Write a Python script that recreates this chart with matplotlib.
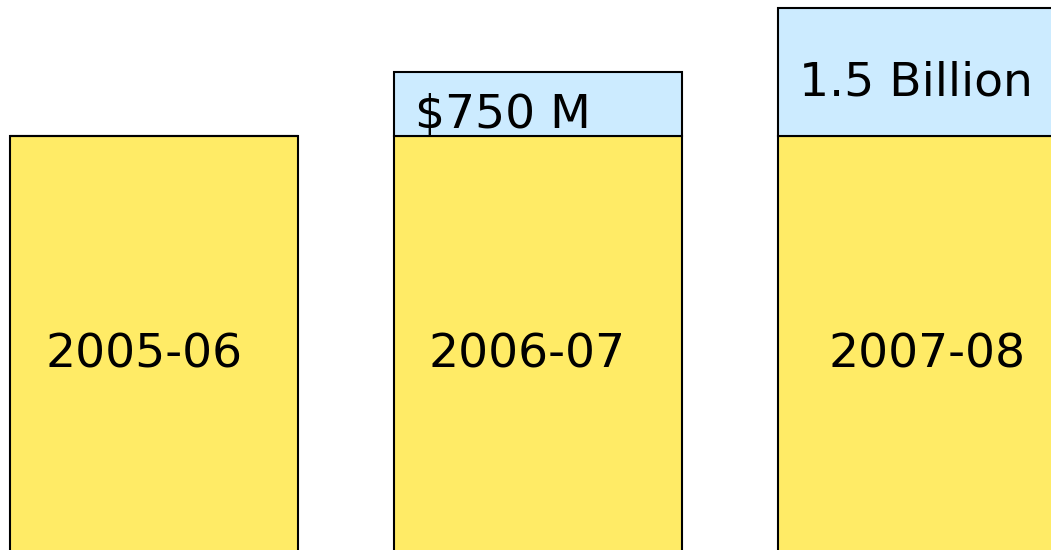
import matplotlib
matplotlib.use("Agg")
import matplotlib.pyplot as plt

# budget by fiscal year, in billions: base plus the yearly increase
years = ["2005-06", "2006-07", "2007-08"]
base = [5.0, 5.0, 5.0]
increase = [0.0, 0.75, 1.5]
increase_labels = [None, "$750 M", "1.5 Billion"]

YELLOW = "#FFEB66"
BLUE = "#CCEBFF"

# small horizontal nudges for the year labels inside the bars
year_shift = [-0.026, -0.029, 0.013]

fig = plt.figure(figsize=(10.51, 5.5), dpi=100)
ax = fig.add_axes([0, 0, 1, 1])

x = list(range(len(years)))
width = 0.75
ax.bar(x, base, width=width, color=YELLOW, edgecolor="black", linewidth=1.5)
ax.bar(x, increase, width=width, bottom=base, color=BLUE,
       edgecolor="black", linewidth=1.5)

for i, year in enumerate(years):
    ax.text(i + year_shift[i], 0.331, year, transform=ax.get_xaxis_transform(),
            ha="center", va="baseline", fontsize=34)
    if increase_labels[i]:
        mid = base[i] + increase[i] / 2
        ax.text(i - width / 2 + 0.055, mid - 0.28, increase_labels[i],
                ha="left", va="baseline", fontsize=34)

ax.set_xlim(-0.401, 2.336)
ax.set_ylim(0.148, 6.594)
ax.axis("off")

fig.savefig("out.png", dpi=100)
